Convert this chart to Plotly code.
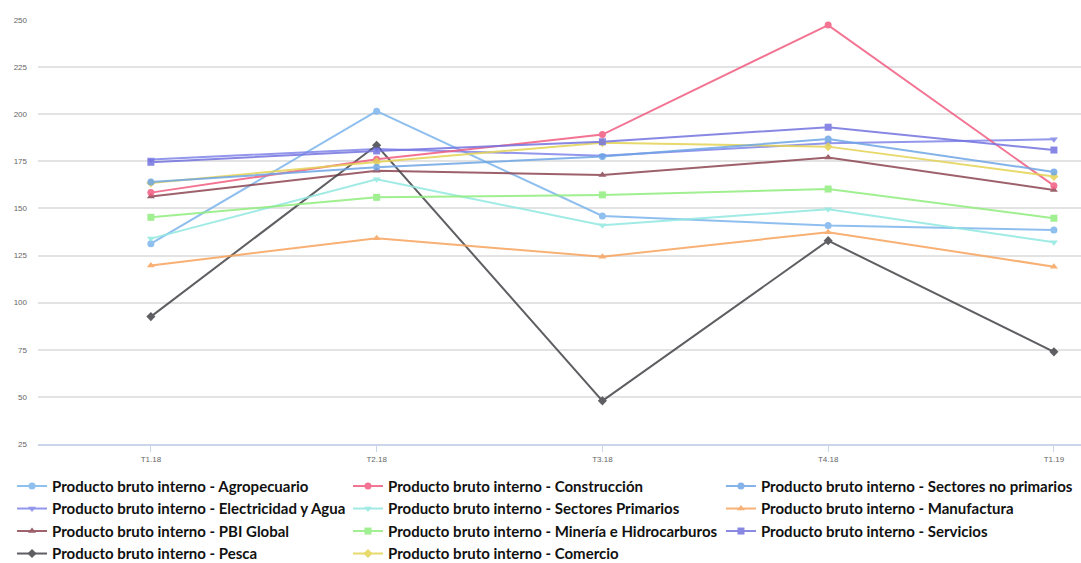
import plotly.graph_objects as go

# Quarterly labels
periods = ["T1.18", "T2.18", "T3.18", "T4.18", "T1.19"]

# Product index per sector
agropecuario = [131.3, 201.6, 146.0, 140.9, 138.6]
construccion = [158.4, 176.1, 189.2, 247.3, 162.1]
sectores_no_primarios = [164.0, 171.9, 177.5, 186.9, 169.4]
electricidad_agua = [176.0, 181.6, 178.0, 184.6, 186.7]
sectores_primarios = [134.0, 165.5, 141.1, 149.6, 132.0]
manufactura = [119.7, 134.2, 124.4, 137.4, 119.1]
pbi_global = [156.3, 170.0, 167.8, 177.0, 159.8]
mineria = [145.3, 155.9, 157.2, 160.3, 144.8]
servicios = [174.5, 180.5, 185.4, 193.1, 181.0]
pesca = [92.6, 183.5, 47.9, 132.9, 73.9]
comercio = [163.5, 174.7, 184.9, 182.8, 167.0]

y_ticks = [25, 50, 75, 100, 125, 150, 175, 200, 225, 250]

prefix = "Producto bruto interno - "
series = [
    # name, values, colour, symbol, legend column
    ("Agropecuario", agropecuario, "#7cb5ec", "circle", "legend"),
    ("Electricidad y Agua", electricidad_agua, "#8085e9", "triangle-down", "legend"),
    ("PBI Global", pbi_global, "#8d4653", "triangle-up", "legend"),
    ("Pesca", pesca, "#434348", "diamond", "legend"),
    ("Construcción", construccion, "#f15c80", "circle", "legend2"),
    ("Sectores Primarios", sectores_primarios, "#91e8e1", "triangle-down", "legend2"),
    ("Minería e Hidrocarburos", mineria, "#90ed7d", "square", "legend2"),
    ("Comercio", comercio, "#e4d354", "diamond", "legend2"),
    ("Sectores no primarios", sectores_no_primarios, "#6ea6e6", "circle", "legend3"),
    ("Manufactura", manufactura, "#f7a35c", "triangle-up", "legend3"),
    ("Servicios", servicios, "#7474e0", "square", "legend3"),
]

fig = go.Figure()
x_idx = list(range(len(periods)))
for name, vals, color, symbol, leg in series:
    fig.add_trace(go.Scatter(
        x=x_idx, y=vals, mode="lines+markers",
        name="<b>" + prefix + name + "</b>",
        line=dict(color=color, width=2),
        marker=dict(color=color, symbol=symbol, size=7),
        opacity=0.85,
        legend=leg, legendgroup=name,
    ))

legend_common = dict(
    orientation="v", yanchor="top", xanchor="left", y=-0.0608,
    font=dict(family="Lato", size=15, color="#111111"),
    tracegroupgap=0, bgcolor="rgba(0,0,0,0)", itemwidth=30,
)

fig.update_layout(
    width=1081, height=563,
    margin=dict(l=38, r=0, t=20, b=119, autoexpand=False),
    plot_bgcolor="white", paper_bgcolor="white",
    showlegend=True,
    legend=dict(x=-0.0249, **legend_common),
    legend2=dict(x=0.2972, **legend_common),
    legend3=dict(x=0.6548, **legend_common),
    xaxis=dict(
        tickmode="array", tickvals=x_idx, ticktext=periods,
        range=[-0.5, 4.12], showgrid=False, zeroline=False,
        showline=True, linecolor="#ccd6eb", linewidth=2,
        ticks="outside", ticklen=6, tickcolor="#ccd6eb",
        tickfont=dict(family="Liberation Sans", size=8, color="#666666"),
        automargin=False,
    ),
    yaxis=dict(
        range=[25, 250], tickvals=y_ticks,
        showgrid=True, gridcolor="#e3e3e3", gridwidth=2,
        zeroline=False, showline=False,
        tickfont=dict(family="Liberation Sans", size=8, color="#666666"),
        ticklabelstandoff=10, automargin=False,
    ),
)

fig.write_html("out.html")
